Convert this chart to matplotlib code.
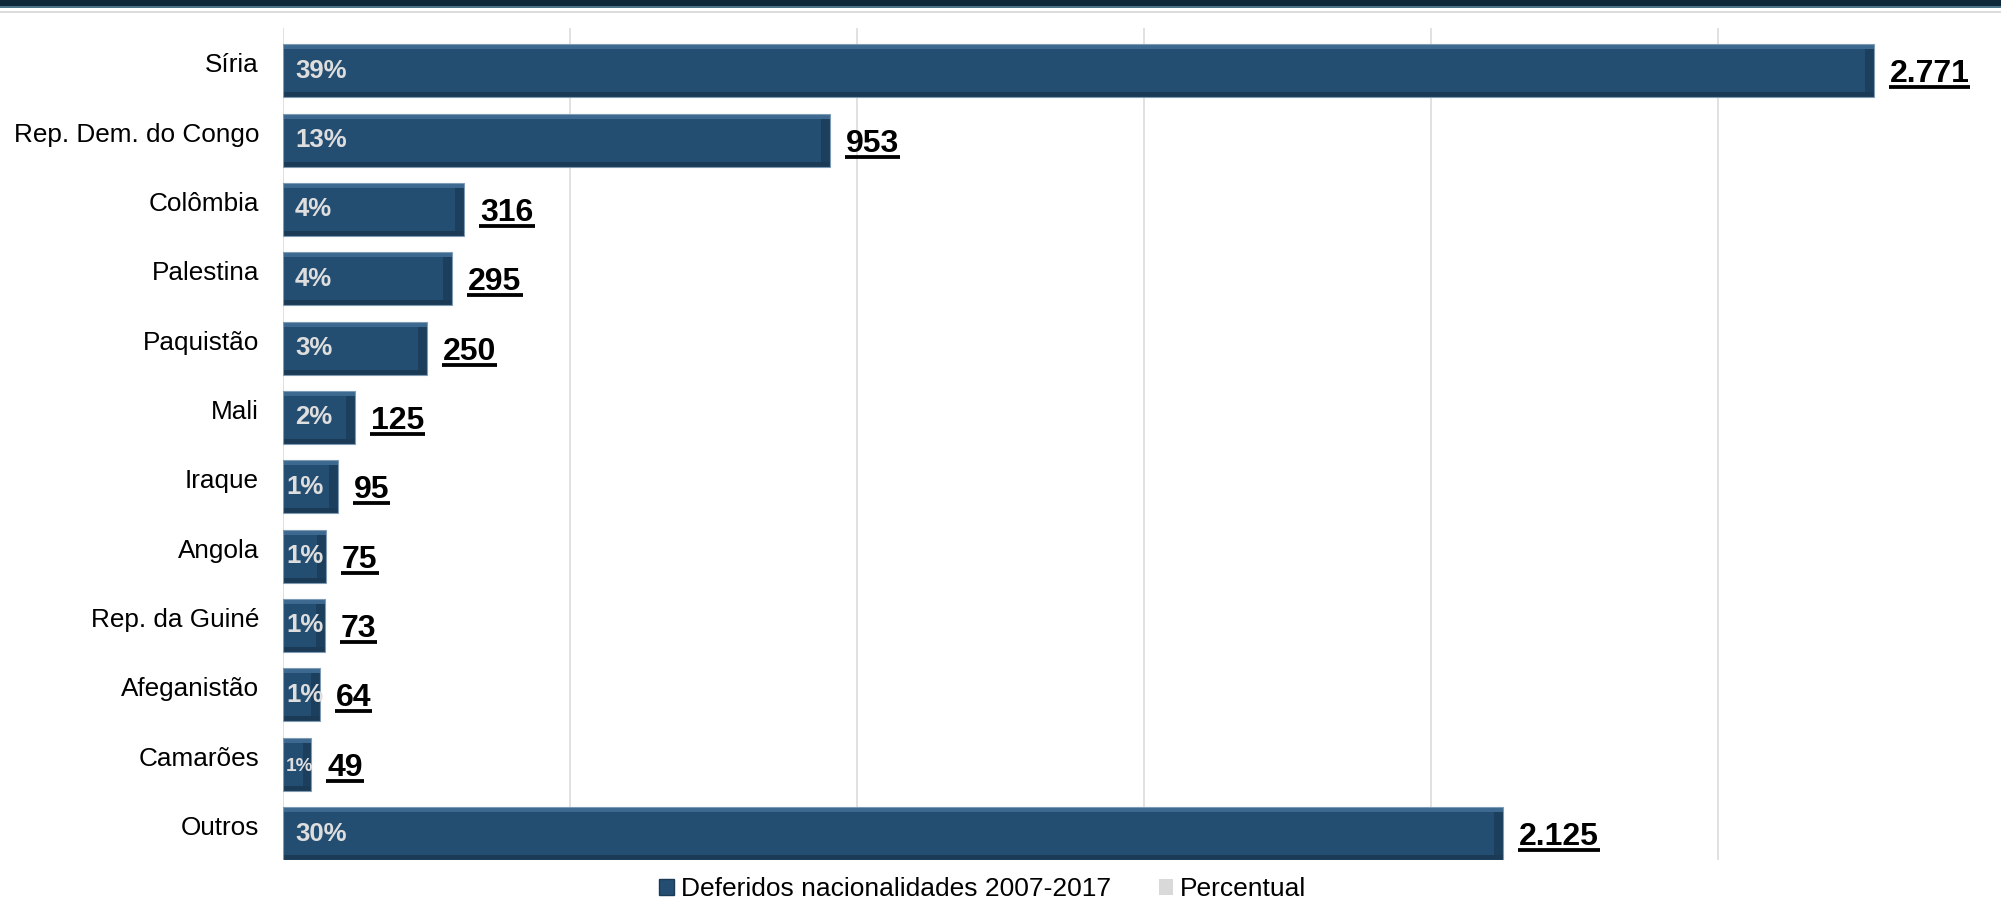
import matplotlib
matplotlib.use('Agg')
import matplotlib.pyplot as plt
from matplotlib.patches import Rectangle, Patch
from matplotlib.lines import Line2D
from matplotlib.transforms import ScaledTranslation, IdentityTransform
import numpy as np

# ---------------- data ----------------
categories = ["Síria", "Rep. Dem. do Congo", "Colômbia", "Palestina", "Paquistão",
              "Mali", "Iraque", "Angola", "Rep. da Guiné", "Afeganistão",
              "Camarões", "Outros"]
deferidos = [2771, 953, 316, 295, 250, 125, 95, 75, 73, 64, 49, 2125]
percentual = [39, 13, 4, 4, 3, 2, 1, 1, 1, 1, 1, 30]
series_names = ["Deferidos nacionalidades 2007-2017", "Percentual"]
x_ticks = [0, 500, 1000, 1500, 2000, 2500]

# ---------------- style ----------------
W, H, DPI = 2001, 898, 100
plt.rcParams['font.family'] = ['Liberation Sans', 'DejaVu Sans']
MAIN = '#244e71'
LIGHT = '#3d6990'
DARK = '#1a3a56'
RIGHT = '#1c3f5d'
EDGE = '#7f9bb3'
GRID = '#d9d9d9'
PCT_COLOR = '#dedede'

fig = plt.figure(figsize=(W / DPI, H / DPI), dpi=DPI)
ax_left, ax_top, ax_bottom = 283, 28, 860
ax = fig.add_axes([ax_left / W, 1 - ax_bottom / H, 1 - ax_left / W, (ax_bottom - ax_top) / H])

n = len(categories)
y = np.arange(n)
y_top = -0.615
y_bot = n - 1 + 0.382
ax.set_xlim(0, 2993)
ax.set_ylim(y_bot, y_top)

px_per_y = (ax_bottom - ax_top) / (y_bot - y_top)
px_per_x = (W - ax_left) / 2993.0
bar_h = 53 / px_per_y
t = 5 / px_per_y
bevel_w = 9 / px_per_x

vals = np.array(deferidos, dtype=float)
bw = np.minimum(bevel_w, vals * 0.3)
ax.barh(y, vals, height=bar_h, color=MAIN, lw=0, zorder=2)
ax.barh(y - bar_h / 2 + t / 2, vals, height=t, color=LIGHT, lw=0, zorder=3)
ax.barh(y + bar_h / 2 - t / 2, vals, height=t, color=DARK, lw=0, zorder=3)
ax.barh(y, bw, left=vals - bw, height=bar_h - 2 * t, color=RIGHT, lw=0, zorder=3)
ax.barh(y, vals, height=bar_h, fill=False, edgecolor=EDGE, lw=0.8, zorder=4)

ax.set_xticks(x_ticks)
ax.set_xticklabels([])
ax.set_yticks([])
ax.tick_params(length=0)
ax.xaxis.grid(True, color=GRID, lw=1.1)
ax.set_axisbelow(True)
for s in ax.spines.values():
    s.set_visible(False)


def px(x_px, y_px):
    return ScaledTranslation(x_px / DPI, y_px / DPI, fig.dpi_scale_trans)


# category labels (baseline just below bar centre)
for yi, c in zip(y, categories):
    ax.text(0, yi, c, transform=ax.get_yaxis_transform() + px(-24, -1.5),
            ha='right', va='baseline', fontsize=18.8, color='black')

fig.canvas.draw()
r = fig.canvas.get_renderer()

# percentage labels inside bars
for yi, v, p in zip(y, deferidos, percentual):
    fs = 18.5
    txt = ax.text(0, yi, f"{p}%", transform=ax.transData + px(12, -7),
                  ha='left', va='baseline', fontsize=fs, fontweight='bold',
                  color=PCT_COLOR, zorder=6)
    tw = txt.get_window_extent(r).width
    bar_px = v * px_per_x
    if tw > bar_px * 1.2:
        txt.set_fontsize(fs * 0.74)
        tw = txt.get_window_extent(r).width
    if tw + 22 > bar_px:
        txt.set_transform(ax.transData + px(3, -7))

# value labels, bold + underlined
for yi, v in zip(y, deferidos):
    label = f"{v:,}".replace(",", ".")
    txt = ax.text(v, yi, label, transform=ax.transData + px(16, -11.5),
                  ha='left', va='baseline', fontsize=23, fontweight='bold',
                  color='black', zorder=6)
    fig.canvas.draw()
    bb = txt.get_window_extent(r)
    base = ax.transData.transform((v, yi))[1] - 11.5
    yu = base - 5
    fig.add_artist(Line2D([bb.x0 - 1, bb.x1 + 1], [yu, yu], transform=IdentityTransform(),
                          color='black', lw=3.8 * 72 / DPI, solid_capstyle='butt'))

# top decoration band
fig.add_artist(Rectangle((0, 1 - 6 / H), 1, 6 / H, transform=fig.transFigure,
                         color='#0e2839', lw=0))
fig.add_artist(Rectangle((0, 1 - 8 / H), 1, 2 / H, transform=fig.transFigure,
                         color='#4d7488', lw=0))
fig.add_artist(Rectangle((0, 1 - 13 / H), 1, 2 / H, transform=fig.transFigure,
                         color='#dcdcdc', lw=0))

# legend
handles = [Patch(facecolor=MAIN, edgecolor=DARK, lw=1), Patch(facecolor=GRID, lw=0)]
fig.legend(handles=handles, labels=series_names, loc='center',
           bbox_to_anchor=(983 / W, 9 / H), ncol=2, frameon=False, fontsize=19,
           handlelength=0.55, handleheight=0.55, handletextpad=0.27,
           columnspacing=1.8, borderaxespad=0, borderpad=0)

fig.savefig('out.png', dpi=DPI)
